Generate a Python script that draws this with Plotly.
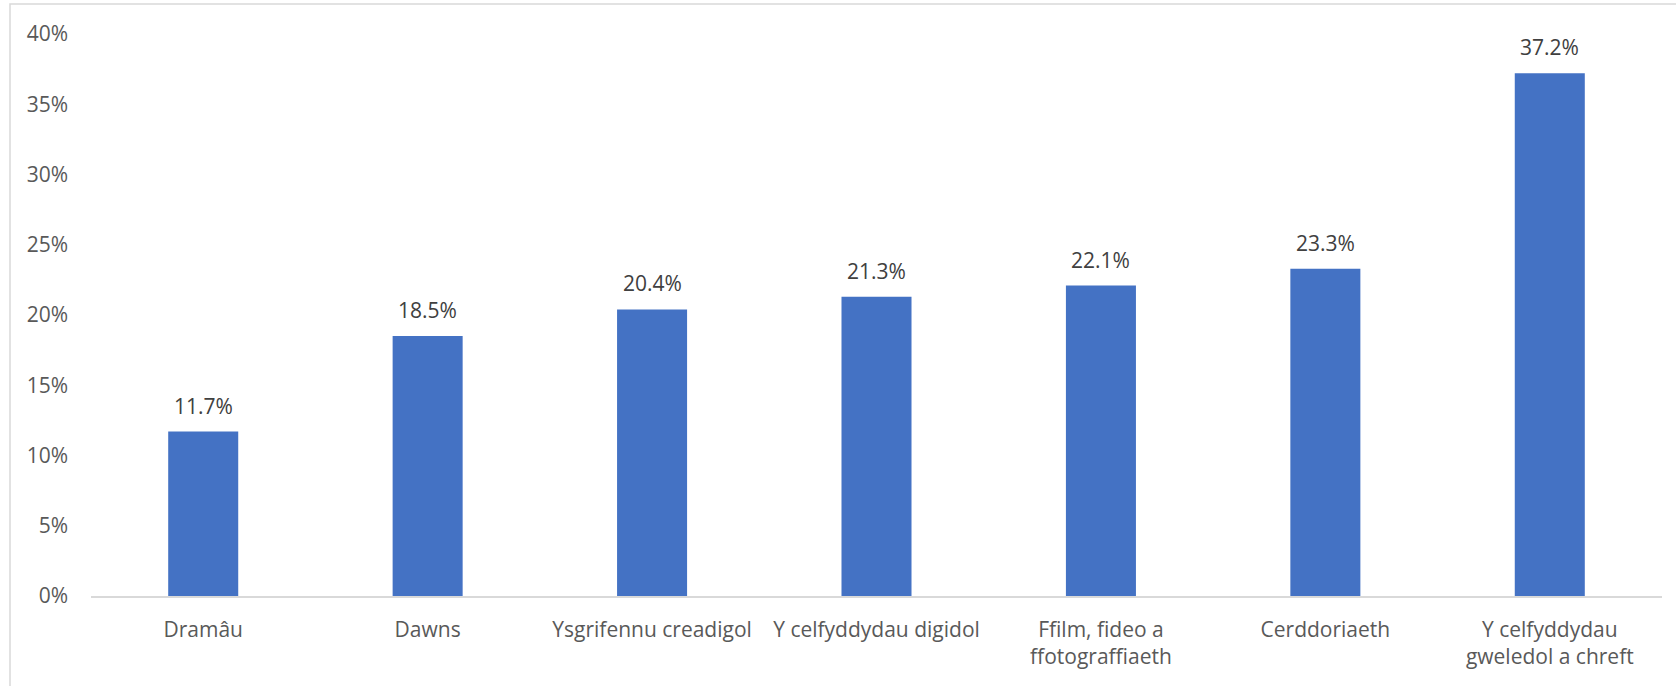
import plotly.graph_objects as go

categories = ["Dramâu", "Dawns", "Ysgrifennu creadigol", "Y celfyddydau digidol",
              "Ffilm, fideo a<br>ffotograffiaeth", "Cerddoriaeth",
              "Y celfyddydau<br>gweledol a chreft"]
values = [0.117, 0.185, 0.204, 0.213, 0.221, 0.233, 0.372]
labels = ["11.7%", "18.5%", "20.4%", "21.3%", "22.1%", "23.3%", "37.2%"]
y_ticks = [0, 0.05, 0.10, 0.15, 0.20, 0.25, 0.30, 0.35, 0.40]

FONT = "Open Sans"
W, H = 1676, 686
L, R, T, B = 91, 14, 34, 90
fig = go.Figure()
fig.add_trace(go.Bar(x=categories, y=values, marker=dict(color="#4472C4", line=dict(width=0)),
                     hoverinfo="skip"))

for c, v, t in zip(categories, values, labels):
    fig.add_annotation(x=c, y=v, text=t, showarrow=False, yanchor="bottom", yshift=10,
                       font=dict(family=FONT, size=21, color="#404040"))

pw, ph = W - L - R, H - T - B
fig.add_shape(type="rect", xref="paper", yref="paper",
              x0=(10 - L) / pw, x1=1.2, y0=-0.3, y1=1 + (T - 4) / ph,
              line=dict(color="#d9d9d9", width=1.5), fillcolor="rgba(0,0,0,0)", layer="below")

fig.update_layout(
    width=W, height=H,
    margin=dict(l=L, r=R, t=T, b=B),
    paper_bgcolor="white", plot_bgcolor="white",
    bargap=0.688, showlegend=False,
    font=dict(family=FONT, size=21, color="#595959"),
    xaxis=dict(showline=True, linecolor="#d9d9d9", linewidth=1.5, showgrid=False,
               ticks="", ticklabelstandoff=14, tickfont=dict(size=21, color="#595959")),
    yaxis=dict(range=[0, 0.4], tickvals=y_ticks, tickformat=".0%", showgrid=False,
               showline=False, zeroline=False, ticks="", ticklabelstandoff=22,
               tickfont=dict(size=21, color="#595959")),
)
fig.write_html("out.html", config={"displayModeBar": False},
               post_script="document.body.style.margin='0px';document.body.style.overflow='hidden';")
